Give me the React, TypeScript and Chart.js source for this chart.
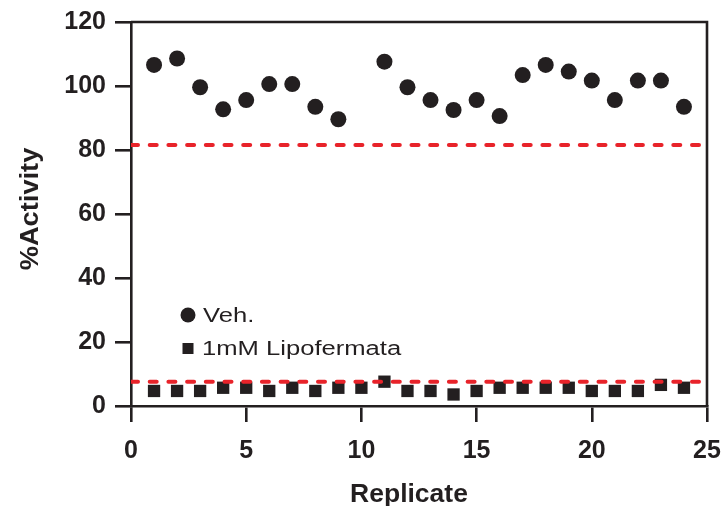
import { useEffect, useRef } from "react";
import Chart, { ChartOptions, Plugin } from "chart.js/auto";

// Replicate numbers (x axis)
const replicates = [
  1, 2, 3, 4, 5, 6, 7, 8, 9, 10, 11, 12, 13, 14, 15, 16, 17, 18, 19, 20, 21,
  22, 23, 24,
];
// %Activity, vehicle (replicate 10 not plotted)
const vehValues = [
  106.6, 108.6, 99.6, 92.7, 95.6, 100.6, 100.6, 93.5, 89.6, null, 107.6, 99.6,
  95.6, 92.5, 95.6, 90.6, 103.4, 106.6, 104.5, 101.7, 95.6, 101.7, 101.7, 93.5,
];
// %Activity, 1mM Lipofermata
const lipoValues = [
  4.7, 4.7, 4.7, 5.7, 5.7, 4.7, 5.7, 4.7, 5.7, 5.7, 7.6, 4.7, 4.7, 3.6, 4.7,
  5.7, 5.7, 5.7, 5.7, 4.7, 4.7, 4.7, 6.6, 5.7,
];
// red dashed threshold lines
const thresholds = [81.6, 7.6];
const xRange = [0, 25];

const seriesLabels = ["Veh.", "1mM Lipofermata"];
const xTitle = "Replicate";
const yTitle = "%Activity";
const INK = "#231f20";
const RED = "#e8232a";
const FONT = "'Liberation Sans', Arial, Helvetica, sans-serif";

// box around the plot (top + right sides)
const framePlugin: Plugin = {
  id: "frame",
  afterDraw(chart) {
    const { ctx, chartArea } = chart;
    ctx.save();
    ctx.strokeStyle = INK;
    ctx.lineWidth = 2.6;
    ctx.beginPath();
    ctx.moveTo(chartArea.left, chartArea.top);
    ctx.lineTo(chartArea.right, chartArea.top);
    ctx.lineTo(chartArea.right, chartArea.bottom);
    ctx.stroke();
    ctx.restore();
  },
};

// axis titles, slightly wide lettering like the original figure
const titlesPlugin: Plugin = {
  id: "axisTitles",
  afterDraw(chart) {
    const { ctx } = chart;
    ctx.save();
    ctx.fillStyle = INK;
    ctx.font = `bold 25px ${FONT}`;
    ctx.textAlign = "center";
    ctx.textBaseline = "alphabetic";
    ctx.save();
    ctx.translate(409, 502);
    ctx.scale(1.06, 1);
    ctx.fillText(xTitle, 0, 0);
    ctx.restore();
    ctx.save();
    ctx.translate(38, 209);
    ctx.rotate(-Math.PI / 2);
    ctx.scale(1.09, 1);
    ctx.fillText(yTitle, 0, 0);
    ctx.restore();
    ctx.restore();
  },
};

// legend inside the plot, lower left
const legendPlugin: Plugin = {
  id: "innerLegend",
  afterDraw(chart) {
    const { ctx, chartArea } = chart;
    const x = chartArea.left + 57;
    const y0 = chartArea.top + 293;
    ctx.save();
    ctx.fillStyle = INK;
    ctx.font = `20px ${FONT}`;
    ctx.textBaseline = "alphabetic";
    // circle
    ctx.beginPath();
    ctx.arc(x, y0, 7.5, 0, Math.PI * 2);
    ctx.fill();
    // square
    ctx.fillRect(x - 5.5, y0 + 28, 11, 11);
    ctx.save();
    ctx.translate(x + 15, y0 + 7);
    ctx.scale(1.28, 1);
    ctx.fillText(seriesLabels[0], 0, 0);
    ctx.restore();
    ctx.save();
    ctx.translate(x + 14, y0 + 40);
    ctx.scale(1.28, 1);
    ctx.fillText(seriesLabels[1], 0, 0);
    ctx.restore();
    ctx.restore();
  },
};

export default function App() {
  const canvasRef = useRef<HTMLCanvasElement | null>(null);

  useEffect(() => {
    if (!canvasRef.current) return;

    const options: ChartOptions<"scatter"> = {
      animation: false,
      responsive: true,
      maintainAspectRatio: false,
      layout: { padding: { top: 22, right: 17, left: 0, bottom: 0 } },
      plugins: { legend: { display: false }, tooltip: { enabled: false } },
      scales: {
        x: {
          type: "linear",
          min: 0,
          max: 25,
          afterFit: (s) => {
            s.height = 100;
            s.paddingLeft = 0;
            s.paddingRight = 0;
          },
          ticks: {
            stepSize: 5,
            color: INK,
            padding: 14,
            font: { family: FONT, size: 25, weight: "bold" },
          },
          grid: {
            drawOnChartArea: false,
            drawTicks: true,
            tickLength: 16,
            tickColor: INK,
            lineWidth: 2.6,
          },
          border: { display: true, color: INK, width: 2.6 },
        },
        y: {
          type: "linear",
          min: 0,
          max: 120,
          afterFit: (s) => {
            s.width = 131;
            s.paddingTop = 0;
            s.paddingBottom = 0;
          },
          ticks: {
            stepSize: 20,
            color: INK,
            padding: 9,
            font: { family: FONT, size: 25, weight: "bold" },
          },
          grid: {
            drawOnChartArea: false,
            drawTicks: true,
            tickLength: 16,
            tickColor: INK,
            lineWidth: 2.6,
          },
          border: { display: true, color: INK, width: 2.6 },
        },
      },
    };

    const chart = new Chart(canvasRef.current, {
      type: "scatter",
      data: {
        datasets: [
          ...thresholds.map((t) => ({
            type: "line" as const,
            label: "threshold",
            data: xRange.map((x) => ({ x, y: t })),
            borderColor: RED,
            borderWidth: 4,
            borderDash: [7, 11.7],
            borderCapStyle: "round" as const,
            pointRadius: 0,
            fill: false,
          })),
          {
            label: seriesLabels[0],
            data: replicates.map((x, i) => ({ x, y: vehValues[i] })),
            pointStyle: "circle",
            pointRadius: 8,
            backgroundColor: INK,
            borderWidth: 0,
          },
          {
            label: seriesLabels[1],
            data: replicates.map((x, i) => ({ x, y: lipoValues[i] })),
            pointStyle: "rect",
            pointRadius: 8.7,
            backgroundColor: INK,
            borderWidth: 0,
          },
        ],
      },
      options,
      plugins: [framePlugin, titlesPlugin, legendPlugin],
    });

    return () => chart.destroy();
  }, []);

  return (
    <div
      style={{
        position: "absolute",
        left: 0,
        top: 0,
        width: 724,
        height: 506,
        background: "#fff",
      }}
    >
      <canvas ref={canvasRef} />
    </div>
  );
}
